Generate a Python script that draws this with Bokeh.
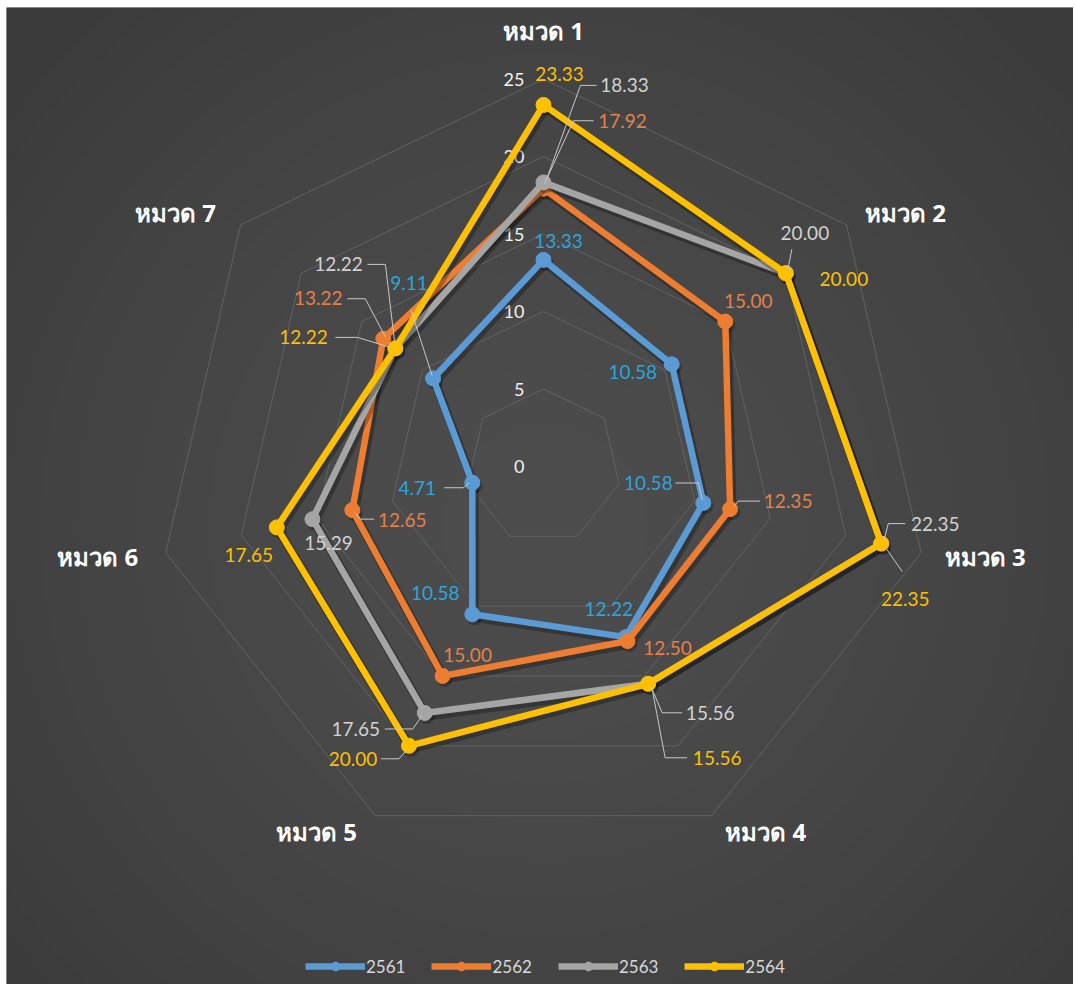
import numpy as np
from bokeh.plotting import figure
from bokeh.models import Range1d, Legend, LegendItem
from bokeh.core.properties import value
from bokeh.embed import file_html
from bokeh.resources import INLINE

# ---------------- data ----------------
categories = ["หมวด 1", "หมวด 2", "หมวด 3", "หมวด 4", "หมวด 5", "หมวด 6", "หมวด 7"]
years = ["2561", "2562", "2563", "2564"]
s2561 = [13.33, 10.58, 10.58, 12.22, 10.58, 4.71, 9.11]
s2562 = [17.92, 15.00, 12.35, 12.50, 15.00, 12.65, 13.22]
s2563 = [18.33, 20.00, 22.35, 15.56, 17.65, 15.29, 12.22]
s2564 = [23.33, 20.00, 22.35, 15.56, 20.00, 17.65, 12.22]
ticks = [0, 5, 10, 15, 20, 25]
series = [s2561, s2562, s2563, s2564]

# ---------------- style ----------------
W, H = 1067, 977
PX = 15.5            # pixels per value unit
CX, CY = 537, 459    # centre of the radar, figure pixels from top-left
BG = "#444444"
line_colors = ["#5B9BD5", "#ED7D31", "#A5A5A5", "#FFC000"]
label_colors = ["#29A6DE", "#E5804A", "#D2D2D2", "#FFC000"]

# label centre offsets (px, right / down) from each point
label_off = [
    [(15, -19), (-39, 8), (-55, -20), (-17, -28), (-37, -21), (-55, 5), (-24, -95)],
    [(79, -68), (23, -21), (58, -8), (40, 7), (25, -21), (50, 10), (-65, -41)],
    [(81, -97), (19, -40), (54, -20), (62, 29), (-69, 16), (16, 24), (-57, -84)],
    [(16, -31), (58, 6), (24, 55), (69, 74), (-56, 13), (-28, 28), (-92, -11)],
]
# leader lines (px offsets from the point)
leaders = {
    (0, 2): [(-1, -3), (-5, -20), (-28, -20)],
    (0, 5): [(-3, 0), (-9, 5), (-28, 5)],
    (0, 6): [(-1, -3), (-22, -68)],
    (1, 0): [(1, -5), (30, -68), (50, -68)],
    (1, 2): [(4, -3), (8, -8), (30, -8)],
    (1, 5): [(3, 3), (8, 9), (22, 9)],
    (1, 6): [(2, -2), (-18, -40), (-36, -40)],
    (2, 0): [(3, -3), (37, -97), (53, -97)],
    (2, 1): [(2, -4), (6, -24)],
    (2, 2): [(3, -4), (7, -20), (24, -20)],
    (2, 3): [(3, 3), (14, 29), (34, 29)],
    (2, 4): [(-3, 3), (-12, 16), (-40, 16)],
    (2, 6): [(-1, -8), (-10, -84), (-28, -84)],
    (3, 2): [(5, 5), (21, 28)],
    (3, 3): [(4, 5), (17, 74), (39, 74)],
    (3, 4): [(-3, 5), (-10, 13), (-28, 13)],
    (3, 6): [(-5, -1), (-38, -11), (-60, -11)],
}
# category label offsets (px) from the outer (25) vertex
cat_off = [(0, -49), (59, -12), (64, 4), (54, 16), (-59, 16), (-68, 4), (-65, -12)]

n = len(categories)
theta = np.pi / 2 - 2 * np.pi * np.arange(n) / n
ct, st = np.cos(theta), np.sin(theta)

x0, x1 = -CX / PX, (W - CX) / PX
y0, y1 = -(H - CY) / PX, CY / PX
p = figure(width=W, height=H,
           x_range=Range1d(x0, x1), y_range=Range1d(y0, y1),
           output_backend="svg", toolbar_location=None,
           x_axis_location=None, y_axis_location=None,
           min_border=0, background_fill_color=BG, border_fill_color=BG,
           outline_line_color=None)
p.margin = (7, 0, 0, 6)
p.grid.visible = False

# soft radial background shading
gw, gh = W // 2, H // 2
yy, xx = np.mgrid[0:gh, 0:gw]
d = np.hypot(xx * 2 - CX, (gh - 1 - yy) * 2 - (H - CY)) / 700.0
lev = (77 - 18 * np.clip(d, 0, 1) ** 1.5).astype(np.uint32)
img = (255 << 24) | (lev << 16) | (lev << 8) | lev
p.image_rgba(image=[img.astype(np.uint32)], x=x0, y=y0, dw=x1 - x0, dh=y1 - y0)

# grid heptagons
gx, gy = [], []
for t in ticks[1:]:
    gx.append(list(t * np.append(ct, ct[0])))
    gy.append(list(t * np.append(st, st[0])))
p.multi_line(gx, gy, line_color="#626262", line_width=1)

# tick labels
p.text(x=[-19 / PX] * len(ticks), y=ticks, text=[str(t) for t in ticks],
       text_align="right", text_baseline="middle", text_color="#f2f2f2",
       text_font=value("Lato"), text_font_size="18px")

legend_items = []
for i, vals in enumerate(series):
    v = np.array(vals)
    xs = v * ct
    ys = v * st
    xc = np.append(xs, xs[0])
    yc = np.append(ys, ys[0])
    # soft shadow
    p.line(xc + 2 / PX, yc - 3 / PX, line_color="black", line_alpha=0.28,
           line_width=9, line_join="round")
    p.scatter(xs + 2 / PX, ys - 3 / PX, size=16, fill_color="black",
              fill_alpha=0.24, line_color=None)
    lr = p.line(xc, yc, line_color=line_colors[i], line_width=6.5,
                line_join="round")
    sr = p.scatter(xs, ys, size=15, marker="circle", fill_color=line_colors[i],
                   line_color=line_colors[i])
    legend_items.append(LegendItem(label=years[i], renderers=[lr, sr]))

# leader lines and data labels (drawn above all series)
for i, vals in enumerate(series):
    v = np.array(vals)
    xs = v * ct
    ys = v * st
    lx, ly = [], []
    for k in range(n):
        if (i, k) in leaders:
            pts = leaders[(i, k)]
            lx.append([xs[k] + a / PX for a, b in pts])
            ly.append([ys[k] - b / PX for a, b in pts])
    if lx:
        p.multi_line(lx, ly, line_color="#c8c8c8", line_width=1)
for i, vals in enumerate(series):
    v = np.array(vals)
    xs = v * ct
    ys = v * st
    tx = [xs[k] + label_off[i][k][0] / PX for k in range(n)]
    ty = [ys[k] - label_off[i][k][1] / PX for k in range(n)]
    p.text(x=tx, y=ty, text=[f"{a:.2f}" for a in vals],
           text_align="center", text_baseline="middle",
           text_color=label_colors[i], text_font=value("Lato"),
           text_font_size="19px")

# category labels
R = ticks[-1]
cx = [R * ct[k] + cat_off[k][0] / PX for k in range(n)]
cy = [R * st[k] - cat_off[k][1] / PX for k in range(n)]
p.text(x=cx, y=cy, text=categories, text_align="center", text_baseline="middle",
       text_color="#ffffff", text_font=value("Noto Sans"), text_font_style="bold",
       text_font_size="24px")

legend = Legend(items=legend_items, orientation="horizontal", location=(299, 7),
                background_fill_alpha=0, border_line_color=None,
                label_text_color="#d9d9d9", label_text_font="Lato",
                label_text_font_size="17px", glyph_width=60, glyph_height=22,
                spacing=26, label_standoff=1, padding=0, margin=0)
p.add_layout(legend)

open("out.html", "w").write(file_html(p, INLINE))
